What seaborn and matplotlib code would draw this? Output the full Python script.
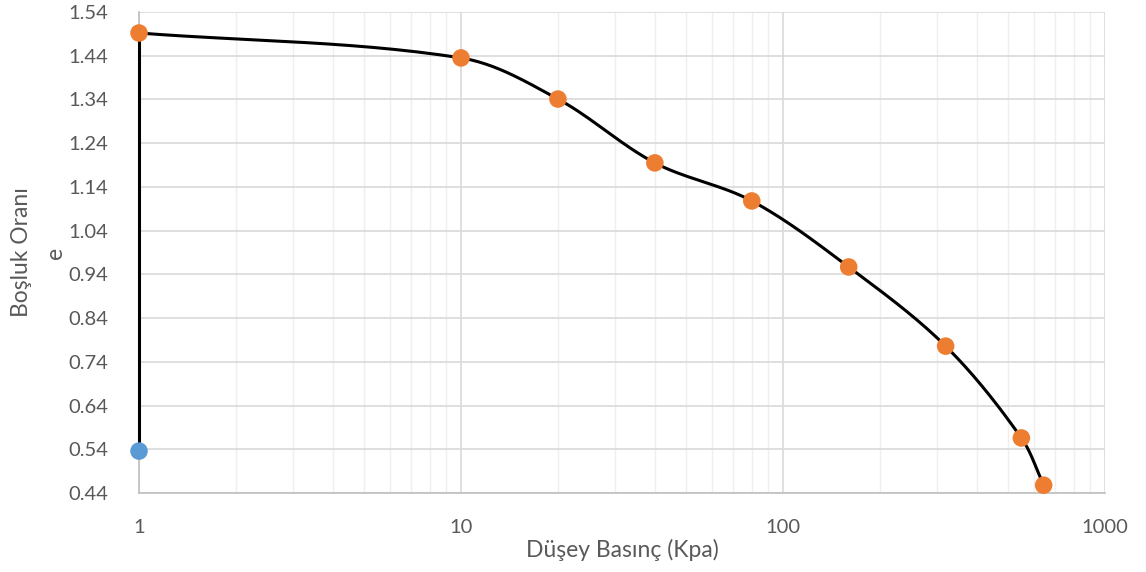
import numpy as np
import pandas as pd
import seaborn as sns
import matplotlib.pyplot as plt
from matplotlib.ticker import FixedLocator, NullFormatter

# data
pressure = [1, 10, 20, 40, 80, 160, 320, 550, 645]
void_ratio = [1.492, 1.435, 1.341, 1.195, 1.108, 0.957, 0.776, 0.566, 0.458]
start_pressure = [1, 1]
start_void = [0.536, 1.492]

y_ticks = [0.44, 0.54, 0.64, 0.74, 0.84, 0.94, 1.04, 1.14, 1.24, 1.34, 1.44, 1.54]
x_ticks = [1, 10, 100, 1000]

sns.set_theme(style="white")
plt.rcParams['font.family'] = ['Lato', 'DejaVu Sans']

fig = plt.figure(figsize=(11.46, 5.72), dpi=100)
ax = fig.add_axes([0.1213, 0.138, 0.8429, 0.841])
ax.set_xscale("log")
ax.set_xlim(1, 1000)
ax.set_ylim(0.44, 1.54)


# smooth the line like a spreadsheet does (bezier through the points, screen space)
def smooth(xs, ys, w=966, h=481, n=30):
    px = np.log10(xs) / 3 * w
    py = (np.array(ys) - 0.44) / 1.1 * h
    pts = np.column_stack([px, py])
    out = []
    for i in range(len(pts) - 1):
        p0 = pts[max(i - 1, 0)]
        p1 = pts[i]
        p2 = pts[i + 1]
        p3 = pts[min(i + 2, len(pts) - 1)]
        seg = np.linalg.norm(p2 - p1)
        t1 = (p2 - p0) / np.linalg.norm(p2 - p0)
        t2 = (p3 - p1) / np.linalg.norm(p3 - p1)
        c1 = p1 + t1 * seg / 3
        c2 = p2 - t2 * seg / 3
        t = np.linspace(0, 1, n)[:, None]
        out.append((1 - t) ** 3 * p1 + 3 * (1 - t) ** 2 * t * c1
                   + 3 * (1 - t) * t ** 2 * c2 + t ** 3 * p2)
    out = np.vstack(out)
    return 10 ** (out[:, 0] / w * 3), out[:, 1] / h * 1.1 + 0.44


sx, sy = smooth(pressure, void_ratio)
curve = pd.DataFrame({"x": sx, "y": sy})

sns.lineplot(x=start_pressure, y=start_void, color="black", linewidth=2.2, sort=False,
             estimator=None, ax=ax, zorder=3, clip_on=False)
sns.lineplot(data=curve, x="x", y="y", color="black", linewidth=2.2, sort=False,
             estimator=None, ax=ax, zorder=3, clip_on=False)
sns.scatterplot(x=start_pressure[:1], y=start_void[:1], color="#5B9BD5", s=160,
                edgecolor="none", ax=ax, zorder=4, clip_on=False)
sns.scatterplot(x=pressure, y=void_ratio, color="#ED7D31", s=160,
                edgecolor="none", ax=ax, zorder=4, clip_on=False)

# grid
ax.xaxis.set_major_locator(FixedLocator(x_ticks))
ax.xaxis.set_minor_locator(FixedLocator([m * d for d in [1, 10, 100] for m in range(2, 10)]))
ax.xaxis.set_minor_formatter(NullFormatter())
ax.set_xticklabels([str(v) for v in x_ticks])
ax.set_yticks(y_ticks)
ax.set_yticklabels([f"{v:.2f}" for v in y_ticks])
ax.grid(which="major", axis="both", color="#D9D9D9", linewidth=1.2)
ax.grid(which="minor", axis="x", color="#EFEFEF", linewidth=1.0)
ax.set_axisbelow(True)

for s in ["top", "right"]:
    ax.spines[s].set_visible(False)
for s in ["left", "bottom"]:
    ax.spines[s].set_color("#BFBFBF")
    ax.spines[s].set_linewidth(1.2)

ax.tick_params(axis="both", which="both", length=0, labelsize=14.5, colors="#595959")
ax.tick_params(axis="y", pad=22)
ax.tick_params(axis="x", pad=19)

ax.set_xlabel("Düşey Basınç (Kpa)", fontsize=16.5, color="#595959", labelpad=2)
ax.set_ylabel("Boşluk Oranı\ne", fontsize=16.5, color="#595959", labelpad=2,
              linespacing=1.75)

plt.savefig("out.png", dpi=100)
